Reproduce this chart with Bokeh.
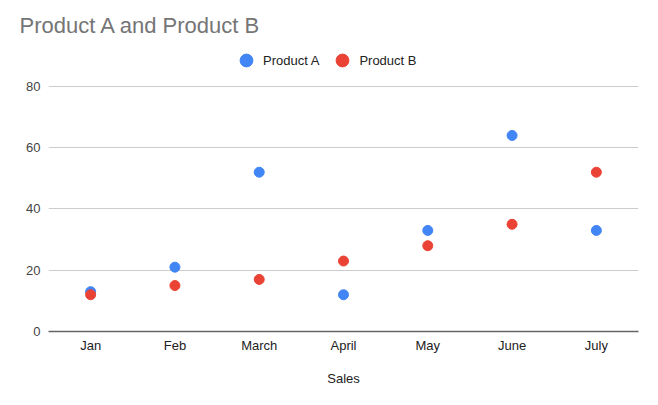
from bokeh.plotting import figure
from bokeh.models import ColumnDataSource, Legend, LegendItem, FactorRange, FixedTicker
from bokeh.embed import file_html
from bokeh.resources import INLINE

months = ["Jan", "Feb", "March", "April", "May", "June", "July"]
product_a = [13, 21, 52, 12, 33, 64, 33]
product_b = [12, 15, 17, 23, 28, 35, 52]
y_ticks = [0, 20, 40, 60, 80]

FONT = "Liberation Sans"

src = ColumnDataSource(dict(m=months, a=product_a, b=product_b))

# frame extends above the 80 gridline so the legend can sit inside it
p = figure(frame_width=590, frame_height=291, x_range=FactorRange(*months), y_range=(0, 95),
           output_backend="svg", toolbar_location=None,
           min_border_left=48, min_border_right=20, min_border_top=40, min_border_bottom=74)

p.title.text = "Product A and Product B"
p.title.text_font = FONT
p.title.text_font_size = "22px"
p.title.text_font_style = "normal"
p.title.text_color = "#757575"
p.title.offset = -29
p.title.standoff = 6

ra = p.scatter("m", "a", source=src, size=10, color="#4285F4")
rb = p.scatter("m", "b", source=src, size=10, color="#EA4335")

legend = Legend(items=[LegendItem(label="Product A", renderers=[ra]),
                       LegendItem(label="Product B", renderers=[rb])],
                orientation="horizontal", location=(182, 255),
                label_text_font=FONT, label_text_font_size="13px", label_text_color="#222222",
                border_line_color=None, background_fill_alpha=0,
                glyph_width=32, glyph_height=32, spacing=7, padding=4, margin=0,
                label_standoff=1)
p.add_layout(legend, "center")

p.outline_line_color = None
p.xgrid.grid_line_color = None
p.ygrid.grid_line_color = "#cccccc"
p.ygrid.ticker = FixedTicker(ticks=y_ticks)

p.yaxis.ticker = FixedTicker(ticks=y_ticks)
p.yaxis.axis_line_color = None
p.yaxis.major_tick_line_color = None
p.yaxis.minor_tick_line_color = None
p.yaxis.major_tick_out = 0
p.yaxis.major_tick_in = 0
p.yaxis.major_label_text_font = FONT
p.yaxis.major_label_text_font_size = "13px"
p.yaxis.major_label_text_color = "#444444"
p.yaxis.major_label_standoff = 8

p.xaxis.axis_line_color = "#666666"
p.xaxis.axis_line_width = 1.5
p.xaxis.major_tick_line_color = None
p.xaxis.minor_tick_line_color = None
p.xaxis.major_tick_out = 0
p.xaxis.major_tick_in = 0
p.xaxis.major_label_text_font = FONT
p.xaxis.major_label_text_font_size = "13px"
p.xaxis.major_label_text_color = "#222222"
p.xaxis.major_label_standoff = 6
p.xaxis.axis_label = "Sales"
p.xaxis.axis_label_text_font = FONT
p.xaxis.axis_label_text_font_size = "13px"
p.xaxis.axis_label_text_font_style = "normal"
p.xaxis.axis_label_text_color = "#222222"
p.xaxis.axis_label_standoff = 15

open("out.html", "w").write(file_html(p, INLINE))
